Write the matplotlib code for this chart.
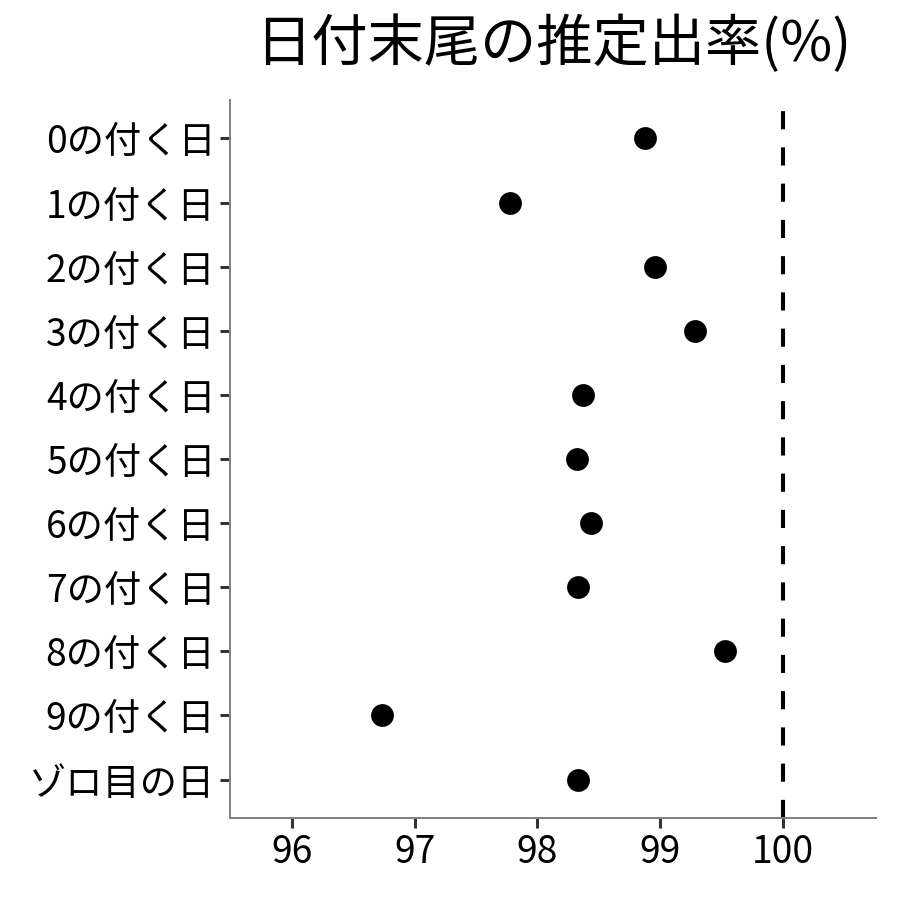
import matplotlib
matplotlib.use("Agg")
import matplotlib.pyplot as plt

plt.rcParams['font.family'] = ['Noto Sans CJK JP', 'DejaVu Sans']

categories = ["0の付く日", "1の付く日", "2の付く日", "3の付く日", "4の付く日",
              "5の付く日", "6の付く日", "7の付く日", "8の付く日", "9の付く日", "ゾロ目の日"]
values = [98.88, 97.78, 98.96, 99.28, 98.37, 98.32, 98.44, 98.33, 99.53, 96.73, 98.33]
xticks = [96, 97, 98, 99, 100]
ref_value = 100
title = "日付末尾の推定出率(%)"

fig = plt.figure(figsize=(9, 9), dpi=100)
ax = fig.add_axes([230/900, 82/900, (876-230)/900, (818-100)/900])

n = len(categories)
ypos = list(range(n))[::-1]
ax.scatter(values, ypos, s=270, color="black", zorder=3, linewidths=0)
ax.axvline(ref_value, color="black", lw=2.9, linestyle=(0, (4.5, 4.5)), zorder=2)

ax.set_yticks(ypos)
ax.set_yticklabels(categories)
ax.set_xticks(xticks)
ax.set_xticklabels([str(t) for t in xticks])
ax.set_xlim(95.495, 100.758)
ax.set_ylim(-0.6, n - 1 + 0.6)

for s in ["top", "right"]:
    ax.spines[s].set_visible(False)
for s in ["left", "bottom"]:
    ax.spines[s].set_color("#7f7f7f")
    ax.spines[s].set_linewidth(1.4)

ax.tick_params(axis="both", length=7.5, width=2.2, color="#333333",
               labelsize=26.8, labelcolor="black", pad=3)

fig.text((230+876)/2/900, 1 - 45/900, title, ha="center", va="center", fontsize=40.5)

fig.savefig("out.png", dpi=100)
